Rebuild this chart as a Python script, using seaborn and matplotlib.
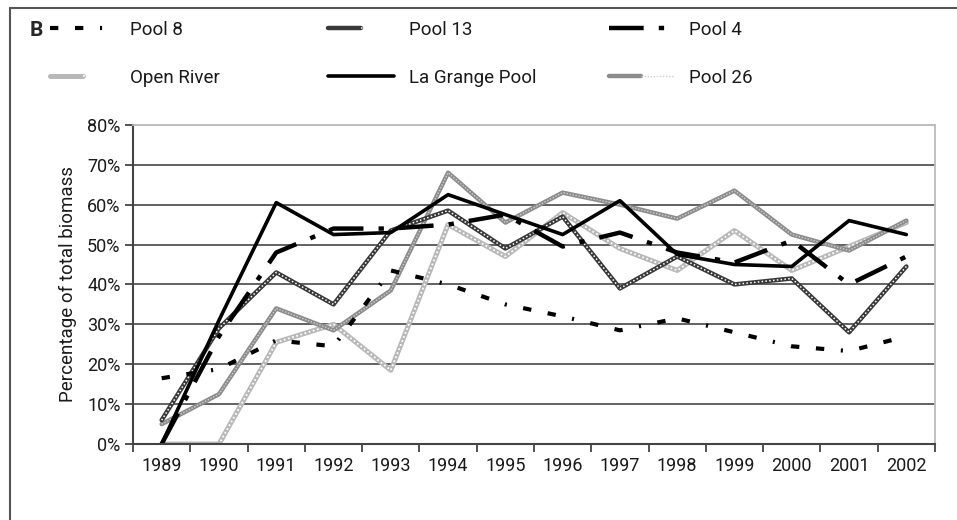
import matplotlib.pyplot as plt
import matplotlib.lines as mlines
from matplotlib.legend_handler import HandlerTuple
from matplotlib.ticker import PercentFormatter, FixedLocator
import pandas as pd
import seaborn as sns

# values (percentage of total biomass)
years = list(range(1989, 2003))
pool8 = [16.5, 18.8, 26.0, 24.5, 43.5, 40.0, 35.0, 32.0, 28.5, 31.5, 28.0, 24.5, 23.3, 27.0]
pool13 = [6.0, 29.0, 43.0, 35.0, 53.5, 58.5, 49.0, 57.0, 39.0, 47.0, 40.0, 41.5, 28.0, 44.5]
pool4 = [0.0, 27.0, 48.0, 54.0, 54.0, 55.0, 57.5, 49.5, 53.0, 48.0, 45.5, 51.0, 40.0, 47.0]
open_river = [0.0, 0.0, 25.5, 30.0, 18.5, 55.0, 47.0, 58.0, 49.0, 43.5, 53.5, 43.5, 49.5, 55.5]
la_grange = [0.0, 31.0, 60.5, 52.5, 53.0, 62.5, 57.5, 52.5, 61.0, 47.5, 45.0, 44.5, 56.0, 52.5]
pool26 = [5.0, 12.5, 34.0, 28.5, 38.5, 68.0, 55.5, 63.0, 60.0, 56.5, 63.5, 52.5, 48.5, 56.0]

df = pd.DataFrame({'year': years, 'Pool 8': pool8, 'Pool 13': pool13, 'Pool 4': pool4,
                   'Open River': open_river, 'La Grange Pool': la_grange, 'Pool 26': pool26})

sns.set_style('white')
plt.rcParams['font.family'] = ['Roboto', 'DejaVu Sans']

fig = plt.figure(figsize=(9.57, 5.2), dpi=100)
ax = fig.add_axes([0.139, 0.146, 0.838, 0.614])

# name -> (base line style, overlay style or None)
styles = {
    'Open River': (dict(color='#b8b8b8', linewidth=3.6), dict(color='white', linewidth=1.3, linestyle=(0, (1, 1.4)))),
    'Pool 26': (dict(color='#8c8c8c', linewidth=3.2), dict(color='#cfcfcf', linewidth=1.0, linestyle=(0, (1, 1.2)))),
    'Pool 13': (dict(color='#383838', linewidth=3.2), dict(color='white', linewidth=1.1, linestyle=(0, (1, 1.5)))),
    'Pool 8': (dict(color='black', linewidth=3.0, linestyle=(0, (2, 4, 2, 4, 0.5, 4))), None),
    'Pool 4': (dict(color='black', linewidth=3.2, linestyle=(0, (7.8, 3.4, 1.2, 3.4))), None),
    'La Grange Pool': (dict(color='black', linewidth=2.6), None),
}

handles = {}
for name, (base, over) in styles.items():
    sns.lineplot(data=df, x='year', y=name, ax=ax, legend=False, **base)
    parts = [ax.lines[-1]]
    if over is not None:
        sns.lineplot(data=df, x='year', y=name, ax=ax, legend=False, **over)
        parts.append(ax.lines[-1])
    handles[name] = tuple(parts)

# axes
ax.set_xlim(1988.5, 2002.5)
ax.set_ylim(0, 80)
ax.xaxis.set_major_locator(FixedLocator([y - 0.5 for y in years] + [2002.5]))
ax.xaxis.set_minor_locator(FixedLocator(years))
ax.set_xticklabels([], minor=False)
ax.set_xticklabels([str(y) for y in years], minor=True)
ax.tick_params(axis='x', which='major', direction='out', length=6, width=1.3, color='#444444', bottom=True)
ax.tick_params(axis='x', which='minor', length=0, labelsize=13, pad=9, colors='#1a1a1a')
ax.set_yticks(range(0, 81, 10))
ax.yaxis.set_major_formatter(PercentFormatter(100, decimals=0))
ax.tick_params(axis='y', direction='out', length=6, width=1.3, color='#444444', left=True, labelsize=13,
               labelcolor='#1a1a1a', pad=3)
ax.set_xlabel('')
ax.set_ylabel('Percentage of total biomass', fontsize=13.5, color='#1a1a1a', labelpad=7)

ax.yaxis.grid(True, color='#555555', linewidth=1.3)
ax.set_axisbelow(True)
ax.get_ygridlines()[-1].set_color('#bbbbbb')
for side in ['left', 'bottom']:
    ax.spines[side].set_color('#444444')
    ax.spines[side].set_linewidth(1.5)
for side in ['top', 'right']:
    ax.spines[side].set_color('#bbbbbb')
    ax.spines[side].set_linewidth(1.3)

# legend: three columns of two entries
columns = [(['Pool 8', 'Open River'], 0.052), (['Pool 13', 'La Grange Pool'], 0.343), (['Pool 4', 'Pool 26'], 0.636)]
for names, x0 in columns:
    leg = fig.legend([handles[n] for n in names], names, loc='upper left', bbox_to_anchor=(x0, 0.96),
                     frameon=False, ncol=1, fontsize=13.5, handlelength=3.5, handletextpad=0.8,
                     labelspacing=1.6, borderpad=0, borderaxespad=0,
                     handler_map={tuple: HandlerTuple(ndivide=None)})
    for t in leg.get_texts():
        t.set_color('#1a1a1a')

fig.text(0.031, 0.942, 'B', fontsize=15, fontweight='bold', va='center', ha='left')

# frame lines at top and left of the panel
fig.add_artist(mlines.Line2D([0.0105, 1.0], [0.985, 0.985], transform=fig.transFigure, color='#555555', linewidth=1.5))
fig.add_artist(mlines.Line2D([0.0105, 0.0105], [0.0, 0.985], transform=fig.transFigure, color='#555555', linewidth=1.5))

fig.savefig('out.png', dpi=100)
